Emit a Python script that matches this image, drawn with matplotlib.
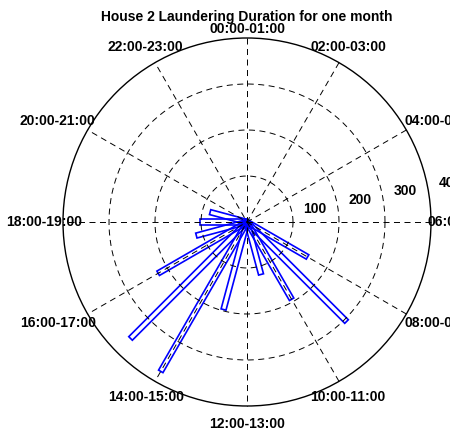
import numpy as np
import matplotlib.pyplot as plt
from matplotlib.patches import Polygon, Circle

# laundering minutes per hour-of-day bin (bin start hour)
hours = [8, 9, 10, 11, 13, 14, 15, 16, 17, 18, 19]
durations = [152, 306, 194, 118, 197, 375, 358, 223, 114, 102, 83]

ring_values = [100, 200, 300, 400]
hour_labels = [f"{h:02d}:00-{h + 1:02d}:00" for h in range(0, 24, 2)]
title = "House 2 Laundering Duration for one month"

RMAX = 400
SCALE = 0.46  # pixels per unit
W, H = 450, 432
CX, CY = 247, 222  # centre in pixels from top-left

plt.rcParams["font.family"] = ["Liberation Sans", "DejaVu Sans"]
fs = 10

fig = plt.figure(figsize=(W / 100, H / 100), dpi=100)
ax = fig.add_axes([0, 0, 1, 1])
ax.set_xlim(-CX / SCALE, (W - CX) / SCALE)
ax.set_ylim(-(H - CY) / SCALE, CY / SCALE)
ax.axis("off")

dash = (0, (6.2, 4.6))
grid_kw = dict(color="black", lw=0.7, linestyle=dash)

# dashed rings and spokes
t = np.linspace(0, 2 * np.pi, 400)
for r in ring_values[:-1]:
    ax.plot(r * np.cos(t), r * np.sin(t), **grid_kw)
for a in np.deg2rad(np.arange(0, 180, 30)):
    ax.plot([RMAX * np.sin(a), -RMAX * np.sin(a)],
            [RMAX * np.cos(a), -RMAX * np.cos(a)], **grid_kw)
ax.add_patch(Circle((0, 0), RMAX, fill=False, ec="black", lw=1.0))

# radial tick labels
ta = np.deg2rad(79)
for r in ring_values:
    ax.text((r + 50) * np.sin(ta), (r + 50) * np.cos(ta), str(r),
            ha="center", va="center", fontsize=fs, fontweight="bold")

# hour labels around the rim, clockwise from the top
lab_r = 1.1 * RMAX
for i, lab in enumerate(hour_labels):
    a = np.deg2rad(i * 30)
    s, c = np.sin(a), np.cos(a)
    x = lab_r * s
    if 0.8 < abs(s) < 0.95:
        x *= 1.08
        if s > 0:
            x += 14
    elif s > 0.95:
        x += 36
    y = lab_r * c * (0.955 if c > 0.99 else 1.0)
    ax.text(x, y, lab, ha="center", va="center", fontsize=fs, fontweight="bold")

# bars as thin outlined rectangles
half_w = 5.5
for h, v in zip(hours, durations):
    a = np.deg2rad(h * 15)
    d = np.array([np.sin(a), np.cos(a)])
    p = np.array([np.cos(a), -np.sin(a)])
    pts = [half_w * p, v * d + half_w * p, v * d - half_w * p, -half_w * p]
    ax.add_patch(Polygon(pts, closed=True, fill=False, ec="#0000ff",
                         lw=1.2, joinstyle="miter"))

ax.text(0, (CY - 17) / SCALE, title, ha="center", va="center",
        fontsize=fs, fontweight="bold")

fig.savefig("out.png", dpi=100)
